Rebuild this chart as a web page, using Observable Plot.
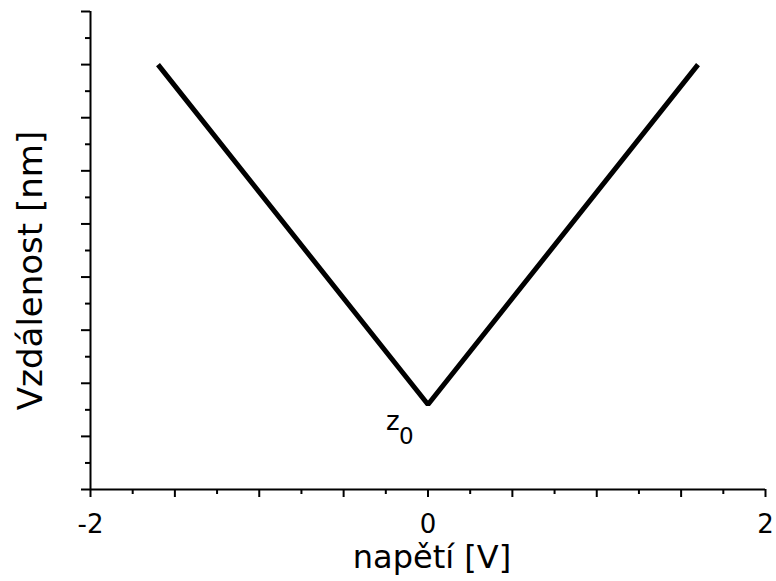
<!DOCTYPE html>
<html>
<head>
<meta charset="utf-8">
<script src="https://cdn.jsdelivr.net/npm/d3@7"></script>
<script src="https://cdn.jsdelivr.net/npm/@observablehq/plot@0.6"></script>
<style>
  body { margin: 0; background: #fff; }
  svg { font-family: "DejaVu Sans", Verdana, sans-serif; }
</style>
</head>
<body>
<div id="chart"></div>
<script>
// V-shaped tip–sample distance vs. bias voltage
const voltage = [-1.6, 0, 1.6];
const distance = [8, 1.6, 8];

// axis ticks
const xMajor = [-2, -1.5, -1, -0.5, 0, 0.5, 1, 1.5, 2];
const xMinor = [-1.75, -1.25, -0.75, -0.25, 0.25, 0.75, 1.25, 1.75];
const xLabeled = [-2, 0, 2];
const yMajor = [0, 1, 2, 3, 4, 5, 6, 7, 8, 9];
const yMinor = [0.5, 1.5, 2.5, 3.5, 4.5, 5.5, 6.5, 7.5, 8.5];

const points = voltage.map((v, i) => ({v, d: distance[i]}));
const vertex = points[1];

const chart = Plot.plot({
  width: 776,
  height: 581,
  marginLeft: 90,
  marginRight: 11,
  marginTop: 11,
  marginBottom: 92,
  style: {fontFamily: "DejaVu Sans, Verdana, sans-serif", color: "#000"},
  x: {domain: [-2, 2]},
  y: {domain: [0, 9]},
  marks: [
    Plot.axisX({ticks: xMinor, tickSize: 5, strokeWidth: 2, tickFormat: () => "", label: null}),
    Plot.axisX({ticks: xMajor, tickSize: 8, strokeWidth: 2, tickPadding: 17, fontSize: 26,
      tickFormat: d => xLabeled.includes(d) ? String(d) : "", label: null}),
    Plot.axisY({ticks: yMinor, tickSize: 5, strokeWidth: 2, tickFormat: () => "", label: null}),
    Plot.axisY({ticks: yMajor, tickSize: 9, strokeWidth: 2, tickFormat: () => "", label: null}),
    Plot.ruleX([-2], {strokeWidth: 2}),
    Plot.ruleY([0], {strokeWidth: 2}),
    Plot.line(points, {x: "v", y: "d", stroke: "#000", strokeWidth: 5, strokeLinejoin: "miter", strokeLinecap: "butt"}),
    Plot.text([vertex], {x: "v", y: "d", text: () => "z", dx: -42, dy: 17, fontSize: 26, textAnchor: "start"}),
    Plot.text([vertex], {x: "v", y: "d", text: () => "0", dx: -29, dy: 32, fontSize: 23, textAnchor: "start"}),
    Plot.text(["napětí [V]"], {frameAnchor: "bottom", lineAnchor: "bottom", dy: 78, dx: 4, fontSize: 32}),
    Plot.text(["Vzdálenost [nm]"], {frameAnchor: "left", textAnchor: "middle", dx: -59, dy: 20, rotate: -90, fontSize: 34})
  ]
});
document.getElementById("chart").append(chart);
</script>
</body>
</html>
